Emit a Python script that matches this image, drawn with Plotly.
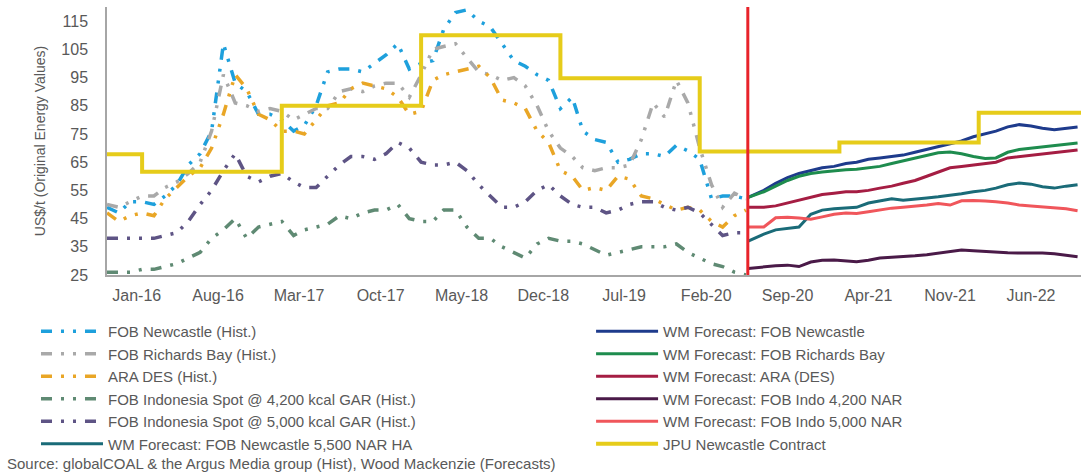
import pandas as pd
import plotly.graph_objects as go

# ---------------- data ----------------
hist_dates = pd.date_range("2015-10-01", periods=56, freq="MS") + pd.Timedelta(days=14)

newcastle_hist = [49, 47, 51, 51, 50, 53, 57, 64, 68, 76, 107, 93, 90, 82, 82, 80, 76, 78, 85, 97,
                  98, 98, 97, 100, 103, 107, 98, 100, 101, 112, 118, 119, 115, 113, 107, 101, 99, 96,
                  94, 84, 88, 76, 73, 72, 65, 66, 68, 68, 67, 71, 69, 66, 52, 53, 53, 52]
richards_hist = [50, 49, 51, 53, 53, 56, 58, 61, 65, 76, 96, 86, 85, 83, 84, 83, 80, 82, 84, 84,
                 90, 91, 90, 92, 93, 93, 88, 96, 105, 106, 107, 102, 97, 96, 94, 95, 92, 85, 76, 70,
                 67, 63, 62, 63, 63, 64, 73, 86, 81, 94, 86, 70, 57, 49, 54, 52]
ara_hist = [47, 44, 46, 47, 46, 52, 56, 60, 63, 70, 82, 96, 91, 82, 80, 76, 76, 75, 80, 85,
            86, 91, 93, 92, 91, 88, 82, 83, 94, 96, 97, 98, 99, 95, 87, 86, 84, 76, 72, 62,
            60, 55, 56, 55, 60, 59, 53, 52, 50, 48, 49, 48, 44, 42, 46, 48]
indo4200_hist = [26, 26, 26, 27, 27, 28, 29, 31, 33, 38, 41, 45, 38, 42, 43, 44, 39, 41, 42, 43,
                 46, 45, 47, 48, 48, 50, 45, 44, 44, 48, 48, 42, 38, 38, 35, 33, 31, 36, 38, 37,
                 37, 36, 34, 32, 33, 34, 35, 35, 35, 36, 33, 31, 29, 28, 26, 25]
indo5000_hist = [38, 38, 38, 38, 38, 39, 40, 44, 50, 55, 62, 68, 60, 58, 60, 61, 58, 56, 56, 60,
                 64, 67, 67, 66, 68, 72, 70, 65, 64, 64, 65, 62, 57, 53, 49, 49, 51, 55, 57, 53,
                 50, 49, 49, 47, 48, 50, 51, 51, 49, 48, 49, 47, 43, 39, 40, 40]

fc_dates = [pd.Timestamp("2020-05-21")] + list(pd.date_range("2020-07-01", periods=28, freq="MS"))

wm_newcastle = [52.5, 55, 57.5, 59.5, 61, 62, 63, 63.5, 64.5, 65, 66, 66.5, 67, 67.5, 68.5, 69.5,
                70.5, 71.5, 72.5, 74, 75, 76, 77.5, 78.3, 77.8, 77, 76.5, 77, 77.5]
wm_richards = [52.5, 54.5, 56.5, 58.5, 60, 61, 61.5, 62, 62.3, 62.5, 63, 63.5, 64.5, 65.5, 66.5,
               67.5, 68.3, 68.6, 68, 67, 66.3, 66.5, 68.5, 69.5, 70, 70.5, 70.8, 71.3, 71.8]
wm_ara = [49, 49, 49.5, 50.5, 51.5, 52.5, 53.5, 54, 54.5, 54.5, 55, 55.8, 56.5, 57.5, 58.5, 60,
          61.5, 63, 63.5, 64, 64.3, 65, 66.5, 67, 67.5, 68, 68.5, 69, 69.3]
wm_indo4200 = [27.3, 28, 28.3, 28.5, 28, 29.6, 30.2, 30.3, 30, 29.7, 30.2, 31, 31.3, 31.5, 31.8,
               32.2, 32.8, 33.2, 33.9, 33.6, 33.3, 33.2, 32.9, 32.8, 32.8, 32.8, 32.5, 32, 31.5]
wm_indo5000 = [42, 42, 45.3, 45.5, 45.2, 44.8, 45.6, 46.5, 47, 46.8, 47.4, 48, 48.7, 49, 49.3,
               49.8, 50.3, 49.8, 51.3, 51.4, 51.2, 51, 50.5, 49.8, 49.5, 49.2, 49, 48.5, 47.8]
wm_newcastle_ha = [37, 39.5, 41, 41.5, 42, 46.5, 48, 48.5, 48.8, 49, 50.5, 51.3, 52, 51.5, 51.8,
                   52.3, 52.7, 53.2, 53.8, 54.5, 55, 55.8, 57, 57.6, 57.2, 56.3, 55.8, 56.5, 57]

jpu_dates = ["2015-10-15", "2016-01-15", "2017-01-15", "2018-01-15", "2019-01-15",
             "2020-01-15", "2021-01-15", "2022-01-15", "2022-10-10"]
jpu_values = [67.8, 61.6, 85, 110, 94.75, 68.75, 72, 82.5, 82.5]

forecast_start = "2020-05-20"

# ---------------- figure ----------------
HIST_DASH = "11px,9px,3px,9px,3px,9px"
fig = go.Figure()

hist_series = [
    ("FOB Newcastle (Hist.)", newcastle_hist, "#1ea0dc"),
    ("FOB Richards Bay (Hist.)", richards_hist, "#a9a9a9"),
    ("ARA DES (Hist.)", ara_hist, "#e9a626"),
    ("FOB Indonesia Spot @ 4,200 kcal GAR (Hist.)", indo4200_hist, "#5f8a73"),
    ("FOB Indonesia Spot @ 5,000 kcal GAR (Hist.)", indo5000_hist, "#5e5485"),
]
for name, vals, col in hist_series:
    fig.add_trace(go.Scatter(x=hist_dates, y=vals, name=name, mode="lines",
                             line=dict(color=col, width=3.5, dash=HIST_DASH),
                             legend="legend"))

fig.add_trace(go.Scatter(x=fc_dates, y=wm_newcastle_ha, name="WM Forecast: FOB Newcastle 5,500 NAR HA",
                         mode="lines", line=dict(color="#1a6b78", width=3), legend="legend"))

fc_series = [
    ("WM Forecast: FOB Newcastle", wm_newcastle, "#1e3b8c"),
    ("WM Forecast: FOB Richards Bay", wm_richards, "#1e8c4e"),
    ("WM Forecast: ARA (DES)", wm_ara, "#a51d43"),
    ("WM Forecast: FOB Indo 4,200 NAR", wm_indo4200, "#4a1a48"),
    ("WM Forecast: FOB Indo 5,000 NAR", wm_indo5000, "#f0565b"),
]
for name, vals, col in fc_series:
    fig.add_trace(go.Scatter(x=fc_dates, y=vals, name=name, mode="lines",
                             line=dict(color=col, width=3), legend="legend2"))

fig.add_trace(go.Scatter(x=jpu_dates, y=jpu_values, name="JPU Newcastle Contract", mode="lines",
                         line=dict(color="#e6cc1a", width=4, shape="hv"), legend="legend2"))

fig.add_shape(type="line", xref="x", yref="paper", x0=forecast_start, x1=forecast_start,
              y0=0, y1=1, line=dict(color="#e8232a", width=3))

fig.add_annotation(text="Source: globalCOAL & the Argus Media group (Hist), Wood Mackenzie (Forecasts)",
                   xref="paper", yref="paper", x=-0.1047, y=-0.7015, xanchor="left", yanchor="middle",
                   showarrow=False, font=dict(size=15, color="#595959"))

legend_common = dict(xanchor="left", yanchor="top", itemwidth=62, bgcolor="rgba(0,0,0,0)",
                     font=dict(size=15, color="#595959"), orientation="v", tracegroupgap=0)

fig.update_layout(
    width=1081, height=475,
    margin=dict(l=107, r=0, t=7, b=200, autoexpand=False),
    plot_bgcolor="white", paper_bgcolor="white",
    font=dict(family="Liberation Sans, Arial, sans-serif", color="#595959", size=15),
    showlegend=True,
    xaxis=dict(type="date", range=["2015-10-15", "2022-10-10"], tick0="2016-01-01", dtick="M7",
               tickformat="%b-%y", showgrid=False, zeroline=False, showline=True,
               linecolor="#a6a6a6", linewidth=1.5, ticks="outside", ticklen=5,
               tickcolor="rgba(0,0,0,0)", tickfont=dict(size=16, color="#595959")),
    yaxis=dict(range=[25, 120], tickvals=list(range(25, 116, 10)), showgrid=False, zeroline=False,
               showline=True, linecolor="#a6a6a6", linewidth=1.5, ticks="outside", ticklen=14,
               tickcolor="rgba(0,0,0,0)", tickfont=dict(size=16, color="#595959"),
               title=dict(text="US$/t (Original Energy Values)", standoff=12,
                          font=dict(size=14, color="#595959"))),
    legend=dict(x=-0.0729, y=-0.149, **legend_common),
    legend2=dict(x=0.497, y=-0.149, **legend_common),
)

fig.write_html("out.html", config={"displayModeBar": False},
               post_script="document.body.style.margin='0';document.body.style.overflow='hidden';")
